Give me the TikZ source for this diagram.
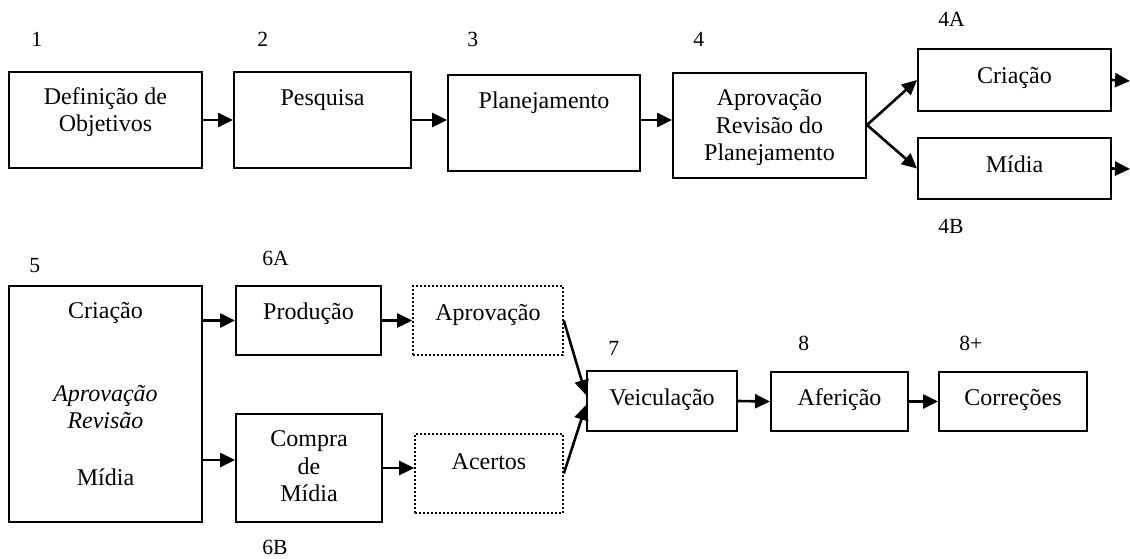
\documentclass[tikz,border=0pt]{standalone}
\usepackage{fontspec}
\setmainfont{Liberation Serif}
\usetikzlibrary{arrows.meta,calc}
\begin{document}
\begin{tikzpicture}[x=0.5pt,y=-0.5pt,
  box/.style={draw, line width=1pt, inner sep=0pt},
  dotbox/.style={draw, line width=0.8pt, dash pattern=on 1pt off 1pt, inner sep=0pt},
  txt/.style={inner sep=0pt, align=center, font=\fontsize{12}{13.7}\selectfont},
  num/.style={inner sep=0pt, anchor=base west, font=\fontsize{10.8}{12}\selectfont},
  flow/.style={line width=1.3pt, -{Triangle[length=7.5pt,width=7pt]}}]
\useasboundingbox (0,0) rectangle (1130,558);

% first row: planning stages
\node[box, minimum width=96.5pt, minimum height=48pt] (b1) at (105.5,120) {};
\node[box, minimum width=88.5pt, minimum height=48pt] (b2) at (322.5,120) {};
\node[box, minimum width=96pt, minimum height=48pt] (b3) at (544,123) {};
\node[box, minimum width=96.5pt, minimum height=52.5pt] (b4) at (769.5,125) {};
\node[box, minimum width=96.5pt, minimum height=31pt] (a4) at (1014.5,80) {};
\node[box, minimum width=96.5pt, minimum height=30.5pt] (m4) at (1014.5,168.5) {};

\node[txt] (t1) at (105.5,112) {Definição de\\Objetivos};
\node[txt, anchor=base] (t2) at (322.5,105) {Pesquisa};
\node[txt, anchor=base] (t3) at (544,108) {Planejamento};
\node[txt] (t4) at (769.5,127.5) {Aprovação\\Revisão do\\Planejamento};
\node[txt, anchor=base] (ta4) at (1014.5,83) {Criação};
\node[txt, anchor=base] (tm4) at (1014.5,172) {Mídia};

\node[num] (n1) at (31,46) {1};
\node[num] (n2) at (257,46) {2};
\node[num] (n3) at (467,46) {3};
\node[num] (n4) at (693,46) {4};
\node[num] (n4a) at (938,26) {4A};
\node[num] (n4b) at (938,233) {4B};

% second row: execution stages
\node[box, minimum width=96.5pt, minimum height=118pt] (b5) at (105.5,404) {};
\node[box, minimum width=72.5pt, minimum height=34.5pt] (p6a) at (308.5,320.5) {};
\node[box, minimum width=73pt, minimum height=54pt] (c6b) at (309,468) {};
\node[dotbox, minimum width=75pt, minimum height=34.5pt] (apr) at (488,320.5) {};
\node[dotbox, minimum width=74pt, minimum height=39.5pt] (ace) at (489,473.5) {};
\node[box, minimum width=75pt, minimum height=30pt] (vei) at (662,401) {};
\node[box, minimum width=68.5pt, minimum height=29.5pt] (afe) at (839.5,401.5) {};
\node[box, minimum width=74pt, minimum height=29.5pt] (cor) at (1013,401.5) {};

\node[txt, anchor=base] (t5a) at (105.5,318) {Criação};
\node[txt, font=\fontsize{12}{13.5}\selectfont\itshape] (t5b) at (105.5,407.5) {Aprovação\\Revisão};
\node[txt, anchor=base] (t5c) at (105.5,485) {Mídia};
\node[txt, anchor=base] (t6a) at (308.5,319) {Produção};
\node[txt] (t6b) at (309,466.5) {Compra\\de\\Mídia};
\node[txt, anchor=base] (tapr) at (488,320) {Aprovação};
\node[txt, anchor=base] (tace) at (489,469) {Acertos};
\node[txt, anchor=base] (tvei) at (662,405) {Veiculação};
\node[txt, anchor=base] (tafe) at (839.5,405) {Aferição};
\node[txt, anchor=base] (tcor) at (1013,405) {Correções};

\node[num] (n5) at (29,272) {5};
\node[num] (n6a) at (262,265) {6A};
\node[num] (n6b) at (262,554) {6B};
\node[num] (n7) at (608,355) {7};
\node[num] (n8) at (798,350) {8};
\node[num] (n8p) at (959,350) {8+};

% connectors
\coordinate (o1) at (1130,81);
\coordinate (o2) at (1130,169);
\draw[flow] (b1.east) -- (b2.west);
\draw[flow] (b2.east) -- (b3.west|-b2.east);
\draw[flow] (b3.east|-b2.east) -- (b4.west|-b2.east);
\draw[flow] (b4.east) -- (a4.west);
\draw[flow] (b4.east) -- (m4.west);
\draw[flow] (a4.east) -- (o1);
\draw[flow] (m4.east) -- (o2);

\draw[flow] (b5.east|-p6a.west) -- (p6a.west);
\coordinate (k6b) at ($(c6b.west)+(0,-8)$);
\draw[flow] (b5.east|-k6b) -- (k6b);
\draw[flow] (p6a.east) -- (p6a.east-|apr.west);
\draw[flow] (c6b.east) -- (c6b.east-|ace.west);
\draw[flow] (apr.east) -- ([yshift=3pt]vei.west);
\draw[flow] (ace.east) -- ([yshift=-2pt]vei.west);
\draw[flow] (vei.east) -- (afe.west);
\draw[flow] (afe.east) -- (cor.west);
\end{tikzpicture}
\end{document}
